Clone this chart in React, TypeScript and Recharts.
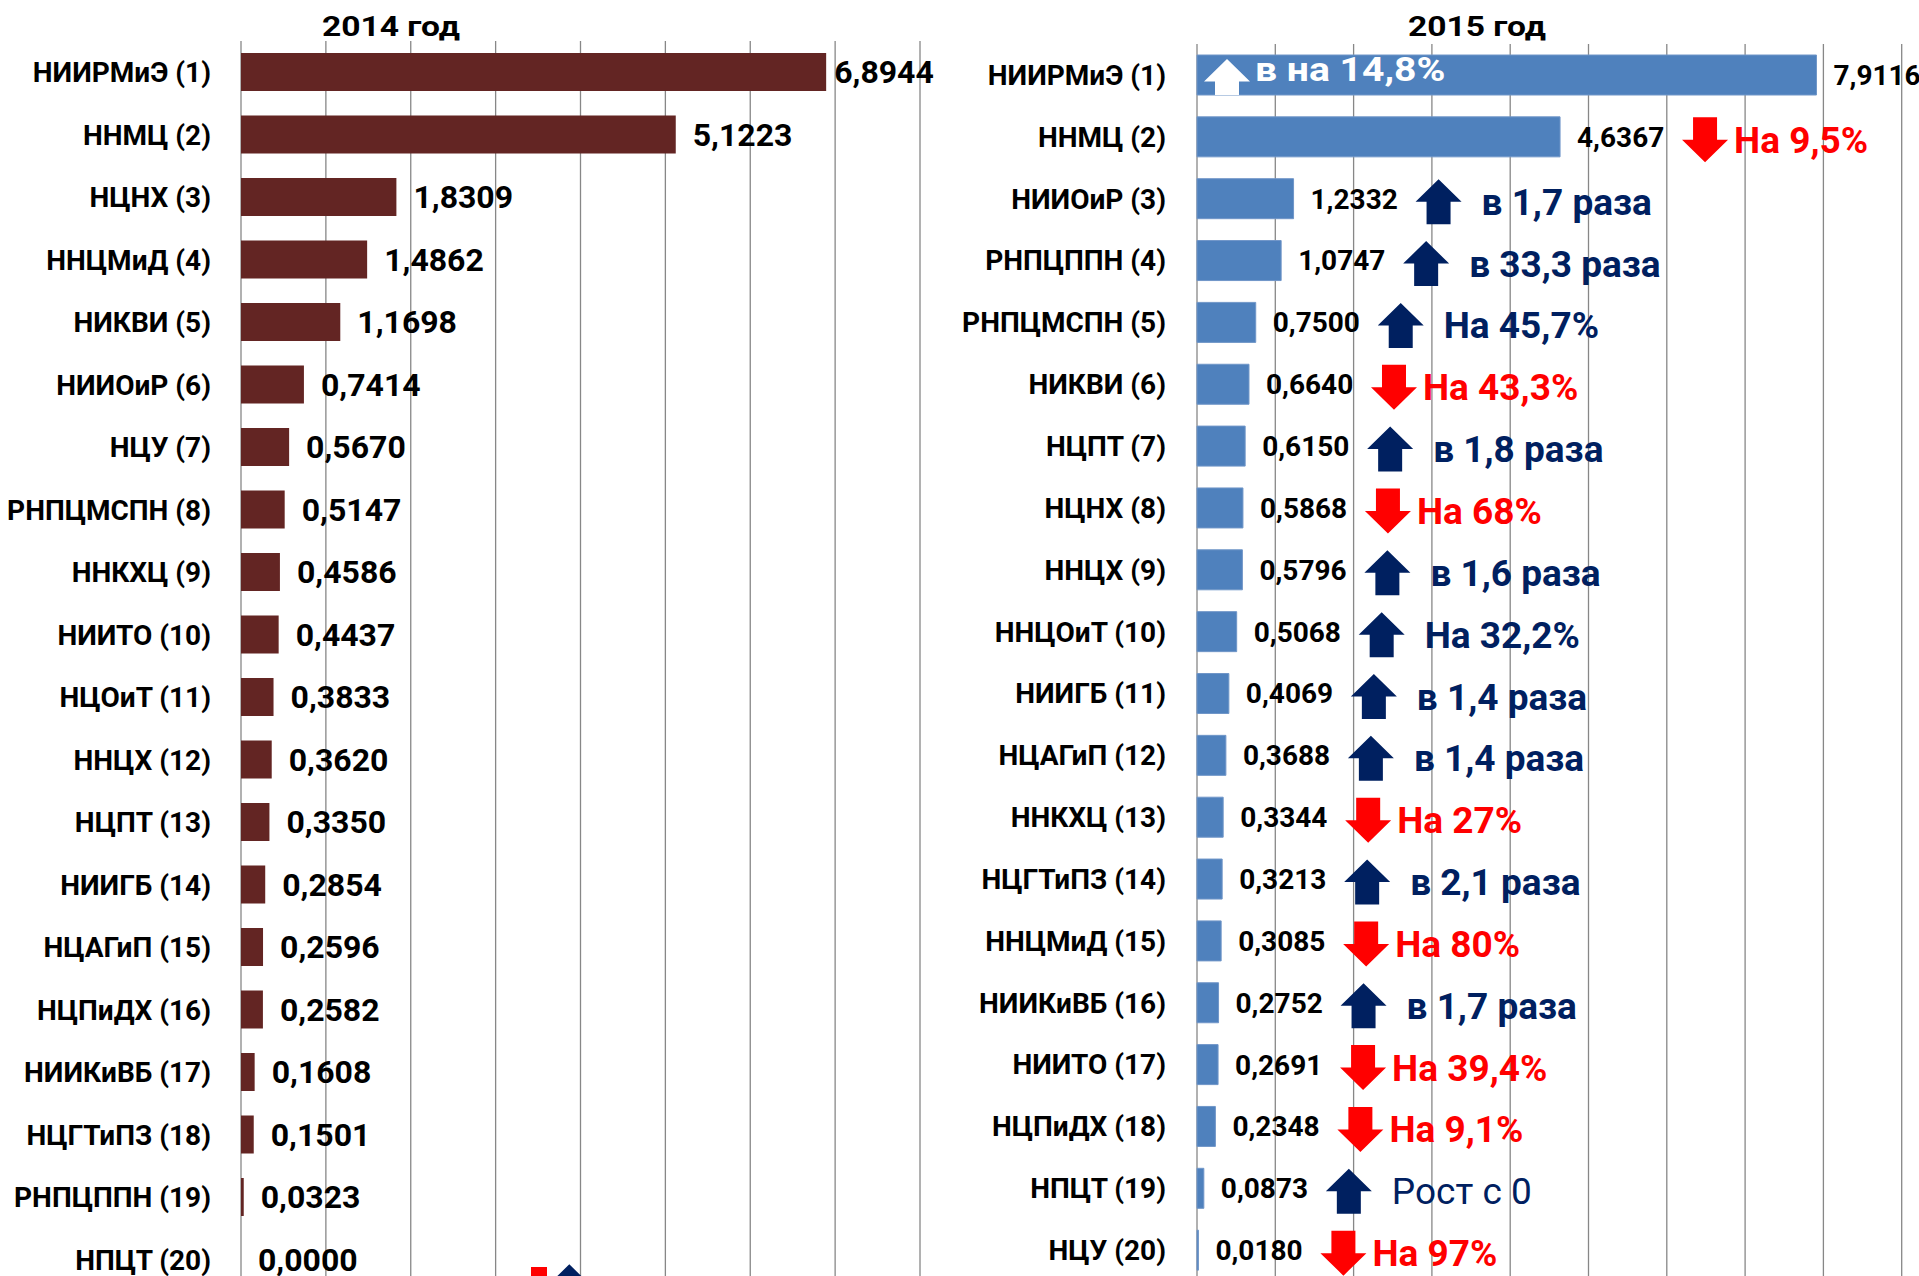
import React from "react";
import { BarChart, Bar, XAxis, YAxis, CartesianGrid, LabelList, Cell } from "recharts";

const FONT = "Roboto, 'Liberation Sans', Arial, sans-serif";
const NAVY = "#002060";
const RED = "#FF0000";

const names2014 = [
  "НИИРМиЭ (1)", "ННМЦ (2)", "НЦНХ (3)", "ННЦМиД (4)", "НИКВИ (5)",
  "НИИОиР (6)", "НЦУ (7)", "РНПЦМСПН (8)", "ННКХЦ (9)", "НИИТО (10)",
  "НЦОиТ (11)", "ННЦХ (12)", "НЦПТ (13)", "НИИГБ (14)", "НЦАГиП (15)",
  "НЦПиДХ (16)", "НИИКиВБ (17)", "НЦГТиПЗ (18)", "РНПЦППН (19)", "НПЦТ (20)",
];
const values2014 = [
  6.8944, 5.1223, 1.8309, 1.4862, 1.1698, 0.7414, 0.567, 0.5147, 0.4586, 0.4437,
  0.3833, 0.362, 0.335, 0.2854, 0.2596, 0.2582, 0.1608, 0.1501, 0.0323, 0.0,
];

const names2015 = [
  "НИИРМиЭ (1)", "ННМЦ (2)", "НИИОиР (3)", "РНПЦППН (4)", "РНПЦМСПН (5)",
  "НИКВИ (6)", "НЦПТ (7)", "НЦНХ (8)", "ННЦХ (9)", "ННЦОиТ (10)",
  "НИИГБ (11)", "НЦАГиП (12)", "ННКХЦ (13)", "НЦГТиПЗ (14)", "ННЦМиД (15)",
  "НИИКиВБ (16)", "НИИТО (17)", "НЦПиДХ (18)", "НПЦТ (19)", "НЦУ (20)",
];
const values2015 = [
  7.9116, 4.6367, 1.2332, 1.0747, 0.75, 0.664, 0.615, 0.5868, 0.5796, 0.5068,
  0.4069, 0.3688, 0.3344, 0.3213, 0.3085, 0.2752, 0.2691, 0.2348, 0.0873, 0.018,
];
const change2015 = [
  "в на 14,8%", "На 9,5%", "в 1,7 раза", "в 33,3 раза", "На 45,7%",
  "На 43,3%", "в 1,8 раза", "На 68%", "в 1,6 раза", "На 32,2%",
  "в 1,4 раза", "в 1,4 раза", "На 27%", "в 2,1 раза", "На 80%",
  "в 1,7 раза", "На 39,4%", "На 9,1%", "Рост с 0", "На 97%",
];
const changeUp2015 = [
  true, false, true, true, true, false, true, false, true, true,
  true, true, false, true, false, true, false, false, true, false,
];

const ticks2014 = [0, 1, 2, 3, 4, 5, 6, 7, 8];
const ticks2015 = [0, 1, 2, 3, 4, 5, 6, 7, 8, 9, 10];

const data2014 = names2014.map((name, i) => ({ name, value: values2014[i], idx: i }));
const data2015 = names2015.map((name, i) => ({ name, value: values2015[i], idx: i }));

const fmt = (v: number) => v.toFixed(4).replace(".", ",");

function boxOf(props: any) {
  const vb = props.viewBox && props.viewBox.width !== undefined ? props.viewBox : props;
  return { x: Number(vb.x), y: Number(vb.y), width: Number(vb.width), height: Number(vb.height) };
}

// block arrow, 46 wide, head 22.5 tall
function Arrow({ x, top, up, fill, h = 45 }: { x: number; top: number; up: boolean; fill: string; h?: number }) {
  const w = 46;
  const sw = 24;
  const hh = 22.5;
  const cx = x + w / 2;
  const d = up
    ? `M${cx},${top} L${x + w},${top + hh} L${cx + sw / 2},${top + hh} L${cx + sw / 2},${top + h} L${cx - sw / 2},${top + h} L${cx - sw / 2},${top + hh} L${x},${top + hh} Z`
    : `M${cx - sw / 2},${top} L${cx + sw / 2},${top} L${cx + sw / 2},${top + h - hh} L${x + w},${top + h - hh} L${cx},${top + h} L${x},${top + h - hh} L${cx - sw / 2},${top + h - hh} Z`;
  return <path d={d} fill={fill} />;
}

function CategoryTick(props: any) {
  const { x, y, payload } = props;
  return (
    <text x={x} y={y} dy="0.355em" textAnchor="end" fontFamily={FONT} fontWeight={700} fontSize={28} fill="#000">
      {payload.value}
    </text>
  );
}

const label2014 = (props: any) => {
  const { x, y, width, height } = boxOf(props);
  const i = Number(props.value);
  const gap = i === 0 ? 8 : 17;
  const w = values2014[i] === 0 ? 0 : width;
  return (
    <text x={x + w + gap} y={y + height / 2} dy="0.355em" fontFamily={FONT} fontWeight={700} fontSize={32} fill="#000">
      {fmt(values2014[i])}
    </text>
  );
};

const VISIBLE_RIGHT = 1019; // page edge in right chart's local coords

const label2015 = (props: any) => {
  const { x, y, width, height } = boxOf(props);
  const i = Number(props.value);
  const end = x + width;
  const cy = y + height / 2 + 3;
  const up = changeUp2015[i];
  const text = change2015[i];
  const color = up ? NAVY : RED;
  const plain = text.startsWith("Рост");
  const arrowX = end + 122;
  const inside = arrowX + 46 > VISIBLE_RIGHT;
  return (
    <g>
      <text x={end + 17} y={y + height / 2} dy="0.355em" fontFamily={FONT} fontWeight={700} fontSize={28} fill="#000">
        {fmt(values2015[i])}
      </text>
      {inside ? (
        <g>
          <Arrow x={x + 7} top={y + 4} up={up} fill="#FFFFFF" h={height - 4} />
          <text
            transform={`translate(${x + 58},${y + 26}) scale(1.15,1)`}
            fontFamily={FONT}
            fontWeight={700}
            fontSize={34}
            fill="#FFFFFF"
          >
            {text}
          </text>
        </g>
      ) : (
        <g>
          <Arrow x={arrowX} top={cy - 22.5} up={up} fill={color} />
          <text
            x={arrowX + 46 + (up ? 20 : 6)}
            y={cy + 13}
            fontFamily={FONT}
            fontWeight={plain ? 400 : 700}
            fontSize={37}
            fill={color}
          >
            {text}
          </text>
        </g>
      )}
    </g>
  );
};

export default function App() {
  return (
    <div style={{ position: "absolute", left: 0, top: 0, width: 1919, height: 1276, overflow: "hidden", background: "#fff" }}>
      <div style={{ position: "absolute", left: 0, top: 0 }}>
        <BarChart layout="vertical" width={960} height={1300} data={data2014} margin={{ top: 41, right: 40, bottom: 9, left: 0 }}>
          <CartesianGrid horizontal={false} stroke="#878787" strokeWidth={1.3} />
          <XAxis type="number" domain={[0, 8]} ticks={ticks2014} hide />
          <YAxis type="category" dataKey="name" width={241} axisLine={false} tickLine={false} tickSize={0} tickMargin={30} tick={<CategoryTick />} interval={0} />
          <Bar dataKey="value" fill="#632523" barSize={38} minPointSize={1} isAnimationActive={false}>
            {data2014.map((d) => (
              <Cell key={d.name} fill={d.value === 0 ? "transparent" : "#632523"} />
            ))}
            <LabelList dataKey="idx" content={label2014} />
          </Bar>
        </BarChart>
      </div>
      <div style={{ position: "absolute", left: 900, top: 0 }}>
        <BarChart layout="vertical" width={1100} height={1290} data={data2015} margin={{ top: 44, right: 20, bottom: 9, left: 0 }}>
          <CartesianGrid horizontal={false} stroke="#878787" strokeWidth={1.3} />
          <XAxis type="number" domain={[0, 10]} ticks={ticks2015} hide />
          <YAxis type="category" dataKey="name" width={297} axisLine={false} tickLine={false} tickSize={0} tickMargin={31} tick={<CategoryTick />} interval={0} />
          <Bar dataKey="value" fill="#4F81BD" stroke="#7096c8" strokeWidth={1} barSize={40} isAnimationActive={false}>
            <LabelList dataKey="idx" content={label2015} />
          </Bar>
        </BarChart>
      </div>
      <svg width={1919} height={1276} style={{ position: "absolute", left: 0, top: 0, pointerEvents: "none" }}>
        <text transform="translate(391,36) scale(1.2,1)" textAnchor="middle" fontFamily={FONT} fontWeight={700} fontSize={28} fill="#000">
          2014 год
        </text>
        <text transform="translate(1477,36) scale(1.2,1)" textAnchor="middle" fontFamily={FONT} fontWeight={700} fontSize={28} fill="#000">
          2015 год
        </text>
        {/* tops of two arrows cut off by the bottom edge */}
        <rect x={531} y={1267} width={16} height={12} fill={RED} />
        <Arrow x={546.3} top={1264.3} up={true} fill={NAVY} />
      </svg>
    </div>
  );
}
